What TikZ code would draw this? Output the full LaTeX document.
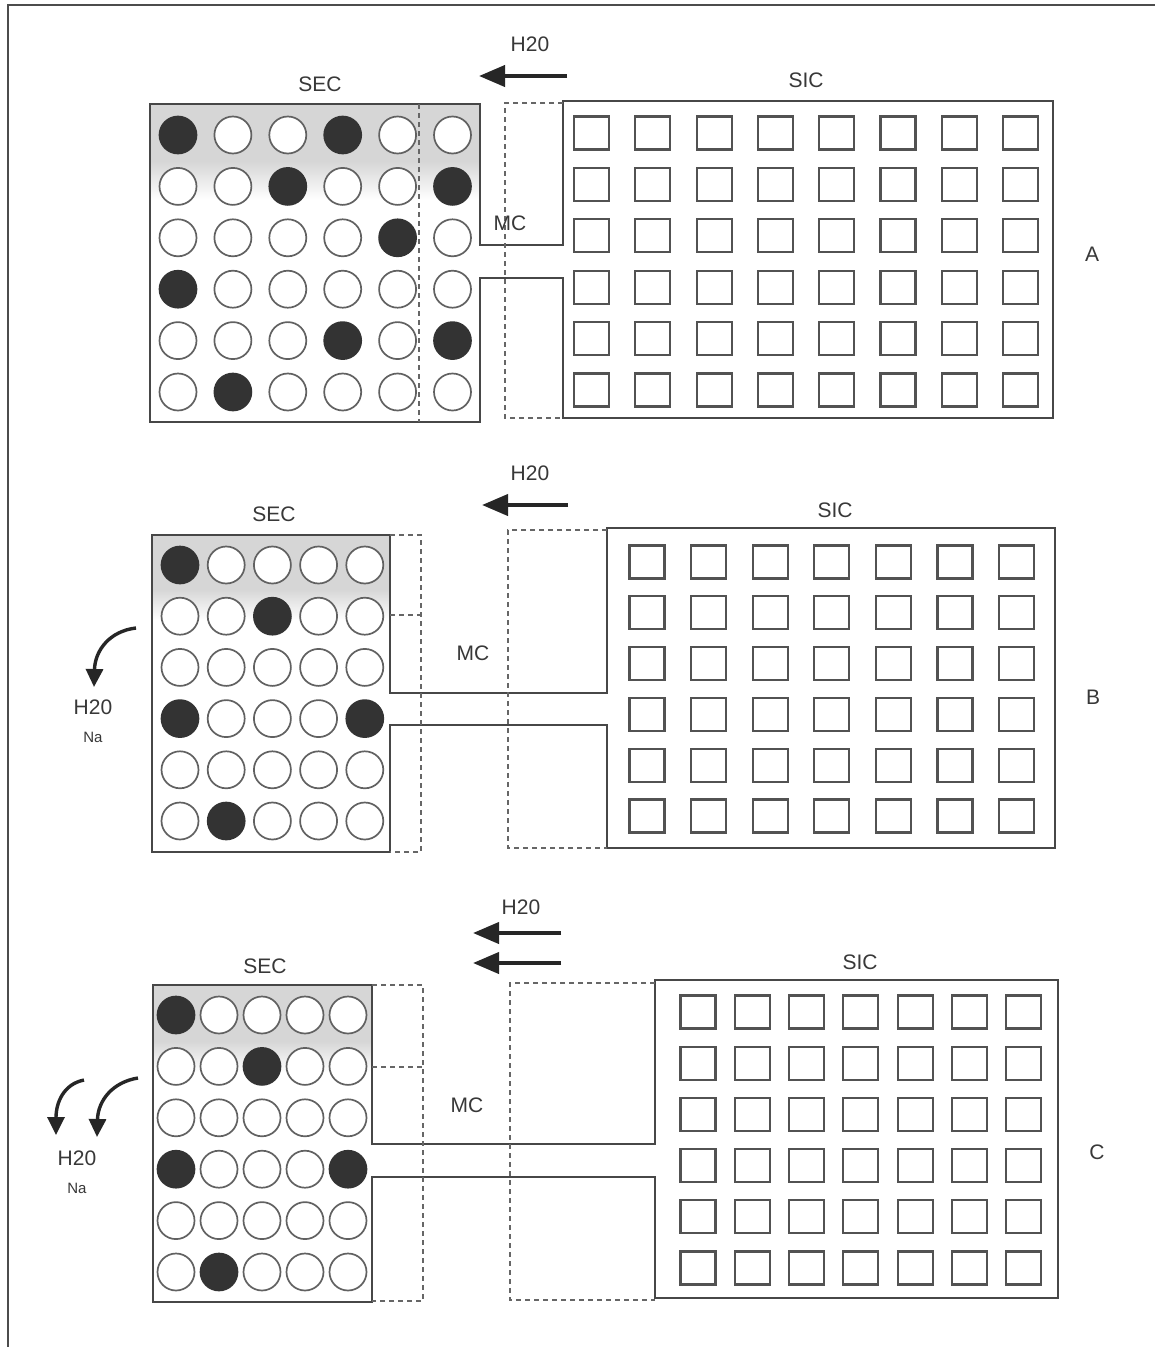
\documentclass[tikz,border=0pt]{standalone}
\usepackage{fontspec}
\setmainfont{Liberation Sans}
\usetikzlibrary{arrows.meta}
\tikzset{
  outline/.style={draw=black!72, line width=2.2pt, line join=miter},
  dashln/.style={draw=black!60, line width=1.7pt, dash pattern=on 5pt off 4pt},
  cell/.style={circle, draw=black!62, fill=white, line width=1.7pt, minimum size=37pt, inner sep=0pt},
  darkcell/.style={cell, draw=black!80, fill=black!80},
  sqcell/.style={rectangle, draw=black!68, fill=none, line width=2.1pt, minimum width=35pt, minimum height=33pt, inner sep=0pt},
  lab/.style={font=\fontsize{21}{24}\selectfont, text=black!78, inner sep=0pt},
  smalllab/.style={font=\fontsize{15}{17}\selectfont, text=black!78, inner sep=0pt},
  flow/.style={draw=black!85, line width=4pt, -{Triangle[length=26pt,width=21pt]}},
  leak/.style={draw=black!85, line width=3.4pt, -{Triangle[length=18pt,width=17pt]}},
  band/.style={fill=black!16, draw=none},
}
\newcommand\secgrid[6]{%
  \foreach \row [count=\i] in {#6} {
    \foreach \v [count=\j] in \row {
      \pgfmathsetmacro\cx{#2+(\j-1)*#3}
      \pgfmathsetmacro\cy{#4+(\i-1)*#5}
      \ifnum\v=1 \node[darkcell] (#1-\i-\j) at (\cx,\cy) {};
      \else \node[cell] (#1-\i-\j) at (\cx,\cy) {};
      \fi
    }
  }
}
\newcommand\sicgrid[7]{%
  \foreach \i in {1,...,#6} {
    \foreach \j in {1,...,#7} {
      \pgfmathsetmacro\cx{#2+(\j-1)*#3}
      \pgfmathsetmacro\cy{#4+(\i-1)*#5}
      \node[sqcell] (#1-\i-\j) at (\cx,\cy) {};
    }
  }
}
\begin{document}
\begin{tikzpicture}[x=1pt, y=-1pt]
\useasboundingbox (0,0) rectangle (1155,1347);
\fill[white] (0,0) rectangle (1155,1347);

% page frame (top and left)
\draw[black!70, line width=1.8pt] (8,1347) -- (8,5) -- (1155,5);

% ================= Panel A =================
\fill[band] (150,104) rectangle (480,162);
\shade[top color=black!16, bottom color=white] (150,161.5) rectangle (480,200);
\draw[outline] (480,245) -- (480,104) -- (150,104) -- (150,422) -- (480,422) -- (480,278)
  -- (563,278) -- (563,418) -- (1053,418) -- (1053,101) -- (563,101) -- (563,245) -- cycle;
\draw[dashln] (419,104) -- (419,422);
\draw[dashln] (563,103) -- (505,103) -- (505,418) -- (563,418);
\secgrid{a}{178}{54.9}{135}{51.4}{{1,0,0,1,0,0},{0,0,1,0,0,1},{0,0,0,0,1,0},{1,0,0,0,0,0},{0,0,0,1,0,1},{0,1,0,0,0,0}}
\sicgrid{sa}{591.5}{61.3}{133}{51.4}{6}{8}
\node[lab] (aH) at (530,44) {H20};
\coordinate (aFs) at (567,76);
\coordinate (aFe) at (479,76);
\draw[flow] (aFs) -- (aFe);
\node[lab] (aSEC) at (320,84) {SEC};
\node[lab] (aSIC) at (806,80) {SIC};
\node[lab] (aMC) at (510,223) {MC};
\node[lab] (aL) at (1092,254) {A};

% ================= Panel B =================
\fill[band] (152,535) rectangle (390,590);
\shade[top color=black!16, bottom color=white] (152,589.5) rectangle (390,620);
\draw[outline] (390,693) -- (390,535) -- (152,535) -- (152,852) -- (390,852) -- (390,725)
  -- (607,725) -- (607,848) -- (1055,848) -- (1055,528) -- (607,528) -- (607,693) -- cycle;
\draw[dashln] (390,535) -- (421,535) -- (421,852) -- (390,852);
\draw[dashln] (390,615) -- (421,615);
\draw[dashln] (607,530) -- (508,530) -- (508,848) -- (607,848);
\secgrid{b}{180}{46.2}{565}{51.2}{{1,0,0,0,0},{0,0,1,0,0},{0,0,0,0,0},{1,0,0,0,1},{0,0,0,0,0},{0,1,0,0,0}}
\sicgrid{sb}{647}{61.6}{562}{50.8}{6}{7}
\node[lab] (bH) at (530,473) {H20};
\coordinate (bFs) at (568,505);
\coordinate (bFe) at (482,505);
\draw[flow] (bFs) -- (bFe);
\node[lab] (bSEC) at (274,514) {SEC};
\node[lab] (bSIC) at (835,510) {SIC};
\node[lab] (bMC) at (473,653) {MC};
\node[lab] (bL) at (1093,697) {B};
\coordinate (bLs) at (136,628);
\coordinate (bLe) at (94,687);
\draw[leak] (bLs) .. controls (110,631) and (95,650) .. (bLe);
\node[lab] (bH2) at (93,707) {H20};
\node[smalllab] (bNa) at (93,737) {Na};

% ================= Panel C =================
\fill[band] (153,985) rectangle (372,1042);
\shade[top color=black!16, bottom color=white] (153,1041.5) rectangle (372,1072);
\draw[outline] (372,1144) -- (372,985) -- (153,985) -- (153,1302) -- (372,1302) -- (372,1177)
  -- (655,1177) -- (655,1298) -- (1058,1298) -- (1058,980) -- (655,980) -- (655,1144) -- cycle;
\draw[dashln] (372,985) -- (423,985) -- (423,1301) -- (372,1301);
\draw[dashln] (372,1067) -- (423,1067);
\draw[dashln] (655,983) -- (510,983) -- (510,1300) -- (655,1300);
\secgrid{c}{176}{43}{1015}{51.4}{{1,0,0,0,0},{0,0,1,0,0},{0,0,0,0,0},{1,0,0,0,1},{0,0,0,0,0},{0,1,0,0,0}}
\sicgrid{sc}{698}{54.3}{1012}{51.2}{6}{7}
\node[lab] (cH) at (521,907) {H20};
\coordinate (cFs1) at (561,933);
\coordinate (cFe1) at (473,933);
\coordinate (cFs2) at (561,963);
\coordinate (cFe2) at (473,963);
\draw[flow] (cFs1) -- (cFe1);
\draw[flow] (cFs2) -- (cFe2);
\node[lab] (cSEC) at (265,966) {SEC};
\node[lab] (cSIC) at (860,962) {SIC};
\node[lab] (cMC) at (467,1105) {MC};
\node[lab] (cL) at (1097,1152) {C};
\coordinate (cL1s) at (84,1080);
\coordinate (cL1e) at (56,1135);
\coordinate (cL2s) at (138,1078);
\coordinate (cL2e) at (97,1137);
\draw[leak] (cL1s) .. controls (64,1084) and (56,1102) .. (cL1e);
\draw[leak] (cL2s) .. controls (113,1082) and (98,1100) .. (cL2e);
\node[lab] (cH2) at (77,1158) {H20};
\node[smalllab] (cNa) at (77,1188) {Na};
\end{tikzpicture}
\end{document}
